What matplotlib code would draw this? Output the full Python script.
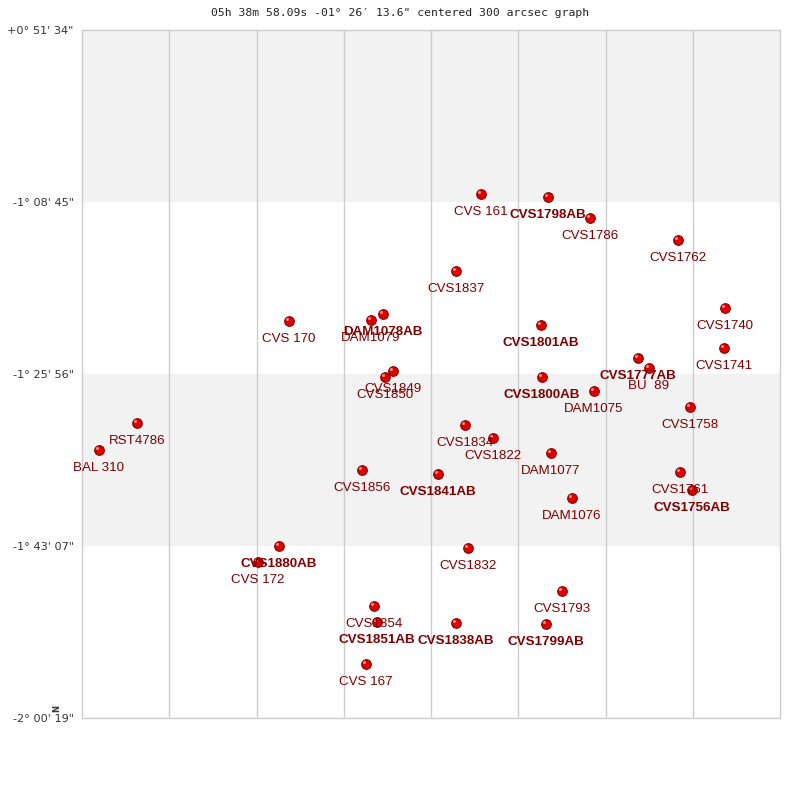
import numpy as np
import matplotlib
matplotlib.use("Agg")
import matplotlib.pyplot as plt
import matplotlib.transforms as mtransforms

# star names, offsets in arcsec inside the 300" box (x right, y up)
names = ["CVS 161", "CVS1798AB", "CVS1786", "CVS1762", "CVS1837", "CVS1740",
         "CVS 170", "DAM1078AB", "DAM1079", "CVS1801AB", "CVS1741", "CVS1849",
         "CVS1850", "CVS1777AB", "BU  89", "CVS1800AB", "DAM1075", "CVS1758",
         "RST4786", "CVS1834", "CVS1822", "BAL 310", "DAM1077", "CVS1856",
         "CVS1841AB", "CVS1761", "CVS1756AB", "DAM1076", "CVS1880AB", "CVS 172",
         "CVS1832", "CVS1793", "CVS1854", "CVS1851AB", "CVS1838AB", "CVS1799AB",
         "CVS 167"]
x_off = [171.5, 200.3, 218.3, 256.2, 160.7, 276.4,
         89.0, 129.4, 124.2, 197.3, 275.9, 133.7,
         130.2, 239.0, 243.7, 197.7, 220.1, 261.3,
         23.6, 164.6, 176.6, 7.3, 201.6, 120.3,
         153.0, 257.0, 262.2, 210.6, 84.7, 75.6,
         165.9, 206.3, 125.5, 126.8, 160.7, 199.4,
         122.1]
y_off = [228.5, 227.2, 218.0, 208.4, 194.9, 178.8,
         173.1, 176.2, 173.5, 171.4, 161.3, 151.3,
         148.7, 157.0, 152.6, 148.7, 142.6, 135.6,
         128.6, 127.8, 122.1, 116.9, 115.6, 108.1,
         106.4, 107.3, 99.4, 95.9, 75.0, 68.0,
         74.1, 55.4, 48.8, 41.9, 41.4, 41.0,
         23.5]

y_ticks = [0, 75, 150, 225, 300]
y_tick_labels = ['-2° 00\' 19"', '-1° 43\' 07"', '-1° 25\' 56"',
                 '-1° 08\' 45"', '+0° 51\' 34"']
x_grid = np.linspace(0, 300, 9)

title = '05h 38m 58.09s -01° 26′ 13.6" centered 300 arcsec graph'

fig = plt.figure(figsize=(8, 8), dpi=100)
ax = fig.add_axes([82/800, 82/800, 698/800, 688/800])
ax.set_xlim(0, 300)
ax.set_ylim(0, 300)

# alternating bands
for i in range(len(y_ticks) - 1):
    if i % 2 == 1:
        ax.axhspan(y_ticks[i], y_ticks[i+1], color="#f2f2f2", zorder=0, lw=0)
for xv in x_grid[1:-1]:
    ax.axvline(xv, color="#cccccc", lw=1, zorder=1)

for s in ax.spines.values():
    s.set_color("#cccccc")
    s.set_linewidth(1)

ax.set_xticks([])
ax.set_yticks(y_ticks)
ax.set_yticklabels(y_tick_labels, fontsize=8.1, color="#333333",
                   family="DejaVu Sans")
ax.tick_params(axis="y", length=0, pad=6)

# stars
ax.scatter(x_off, y_off, s=48, facecolor="#dd0000", edgecolor="#8a0000",
           linewidth=0.8, zorder=3)
# small highlight on each ball
hl = ax.transData + mtransforms.ScaledTranslation(-1.2/72, 1.2/72, fig.dpi_scale_trans)
ax.scatter(x_off, y_off, s=5, color="#ff8080", lw=0, zorder=4, transform=hl)

for n, xv, yv in zip(names, x_off, y_off):
    bold = n.endswith("AB")
    ax.annotate(n, (xv, yv), xytext=(0, -12.8), textcoords="offset points",
                ha="center", va="center", fontsize=9.6, color="#800000",
                family="Liberation Sans",
                fontweight="bold" if bold else "normal", zorder=5)

fig.text(0.5, 1 - 13/800, title, ha="center", va="center",
         family="DejaVu Sans Mono", fontsize=8.2, color="#222222")
fig.text(57/800, 1 - 708/800, "N", rotation=90, ha="center", va="center",
         fontsize=6, fontweight="bold", color="#333333")

fig.savefig("out.png", dpi=100)
